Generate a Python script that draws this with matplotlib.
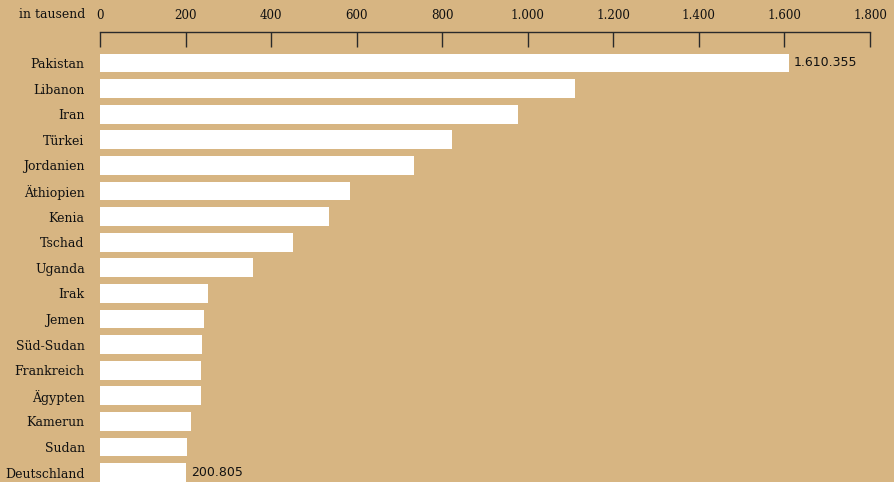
import matplotlib
matplotlib.use("Agg")
import matplotlib.pyplot as plt
from matplotlib.ticker import FuncFormatter

countries = ["Pakistan", "Libanon", "Iran", "Türkei", "Jordanien", "Äthiopien",
             "Kenia", "Tschad", "Uganda", "Irak", "Jemen", "Süd-Sudan",
             "Frankreich", "Ägypten", "Kamerun", "Sudan", "Deutschland"]
values = [1610.355, 1110, 977, 822, 733, 585, 536, 452, 357, 252, 243, 238,
          236, 236, 213, 203, 200.805]
labelled = {0: "1.610.355", 16: "200.805"}
ticks = [0, 200, 400, 600, 800, 1000, 1200, 1400, 1600, 1800]

bg = "#D7B582"
font = "DejaVu Serif"

fig = plt.figure(figsize=(8.95, 4.82), dpi=100, facecolor=bg)
W, H = 895, 482
ax = fig.add_axes([100 / W, 0, 770 / W, 1 - 32 / H])
ax.set_facecolor(bg)

pos = list(range(len(countries)))
ax.barh(pos, values, height=0.73, color="white", zorder=2)

ax.set_xlim(0, 1800)
ax.set_ylim((482 - 63) / 25.6, (32 - 63) / 25.6)

for s in ["left", "right", "bottom"]:
    ax.spines[s].set_visible(False)
ax.spines["top"].set_color("#2a2a2a")
ax.spines["top"].set_linewidth(1)

ax.xaxis.tick_top()
ax.set_xticks(ticks)
ax.xaxis.set_major_formatter(FuncFormatter(lambda v, p: f"{int(v):,}".replace(",", ".")))
ax.tick_params(axis="x", direction="in", length=11, width=1, color="#2a2a2a",
               pad=7, labelsize=8.6, labelcolor="#111111")
for t in ax.get_xticklabels():
    t.set_fontfamily(font)

ax.set_yticks(pos)
ax.set_yticklabels(countries, fontfamily=font, fontsize=9, color="#111111")
ax.tick_params(axis="y", length=0, pad=11)

for i, txt in labelled.items():
    ax.text(values[i] + 12, i, txt, va="center", ha="left", fontsize=9,
            fontfamily="DejaVu Sans", color="#111111")

fig.text(85 / W, 1 - 14 / H, "in tausend", ha="right", va="center",
         fontfamily=font, fontsize=9, color="#111111")

fig.savefig("out.png", dpi=100, facecolor=bg)
